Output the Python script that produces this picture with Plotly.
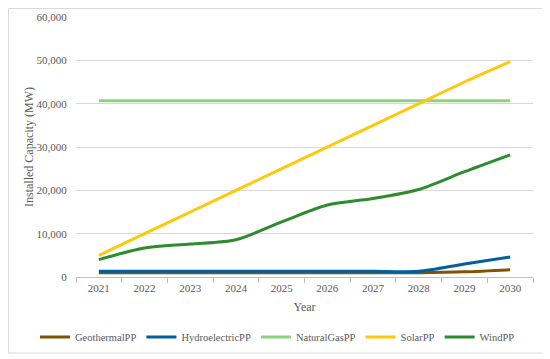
import plotly.graph_objects as go

years = ["2021", "2022", "2023", "2024", "2025", "2026", "2027", "2028", "2029", "2030"]
geothermal = [1000, 1000, 1000, 1000, 1000, 1000, 1000, 1000, 1200, 1700]
hydro = [1300, 1300, 1300, 1300, 1300, 1300, 1300, 1300, 3000, 4600]
natural_gas = [40700, 40700, 40700, 40700, 40700, 40700, 40700, 40700, 40700, 40700]
solar = [5000, 10000, 15000, 20000, 25000, 30000, 35000, 40000, 45000, 49700]
wind = [4000, 6700, 7600, 8600, 12700, 16600, 18100, 20200, 24300, 28200]

series = [
    ("GeothermalPP", geothermal, "#7F5500"),
    ("HydroelectricPP", hydro, "#005F9E"),
    ("NaturalGasPP", natural_gas, "#8FD27E"),
    ("SolarPP", solar, "#FFC808"),
    ("WindPP", wind, "#2E8B2E"),
]

fig = go.Figure()
for name, vals, color in series:
    fig.add_trace(go.Scatter(
        x=years, y=vals, name=name, mode="lines",
        line=dict(color=color, width=3, shape="spline", smoothing=0.8),
    ))

font = "Liberation Serif"
# page body has an 8px margin; figure is sized/positioned to compensate
W, H = 542, 351
l, t = 68, 9
pw, ph = 457, 260
r, b = W - l - pw, H - t - ph
bottom = t + ph  # figure-pixel y of the x axis


def px_x(fx):
    return (fx - l) / pw


def px_y(fy):
    return (bottom - fy) / ph


fig.update_layout(
    width=W, height=H,
    margin=dict(l=l, r=r, t=t, b=b, autoexpand=False),
    paper_bgcolor="white", plot_bgcolor="white",
    font=dict(family=font, size=11, color="#595959"),
    showlegend=True,
    legend=dict(orientation="h",
                x=px_x(27), xanchor="left",
                y=px_y(329), yanchor="middle",
                font=dict(family=font, size=10.5, color="#595959"),
                itemwidth=30, tracegroupgap=0, bgcolor="rgba(0,0,0,0)"),
    xaxis=dict(
        type="category", showgrid=False,
        showline=True, linecolor="#BFBFBF", linewidth=1,
        ticks="outside", tickson="boundaries", ticklen=5, tickcolor="#BFBFBF",
        ticklabelstandoff=1,
        tickfont=dict(family=font, size=11, color="#595959"),
        title=dict(text="Year", font=dict(family=font, size=12, color="#595959"), standoff=9),
        range=[-0.5, 9.5], automargin=False,
    ),
    yaxis=dict(
        range=[0, 60000], dtick=10000, tickformat=",",
        showgrid=True, gridcolor="#D9D9D9", gridwidth=1,
        zeroline=False, showline=False,
        ticks="outside", ticklen=6, tickcolor="rgba(0,0,0,0)",
        tickfont=dict(family=font, size=11, color="#595959"),
        title=dict(text="Installed Capacity (MW)", font=dict(family=font, size=12, color="#595959"), standoff=0),
        automargin=False,
    ),
    shapes=[dict(
        type="rect", xref="paper", yref="paper",
        x0=px_x(0.5), x1=px_x(539),
        y0=px_y(345), y1=px_y(0.5),
        line=dict(color="#D9D9D9", width=1), fillcolor="rgba(0,0,0,0)", layer="below",
    )],
)

fig.write_html("out.html")
